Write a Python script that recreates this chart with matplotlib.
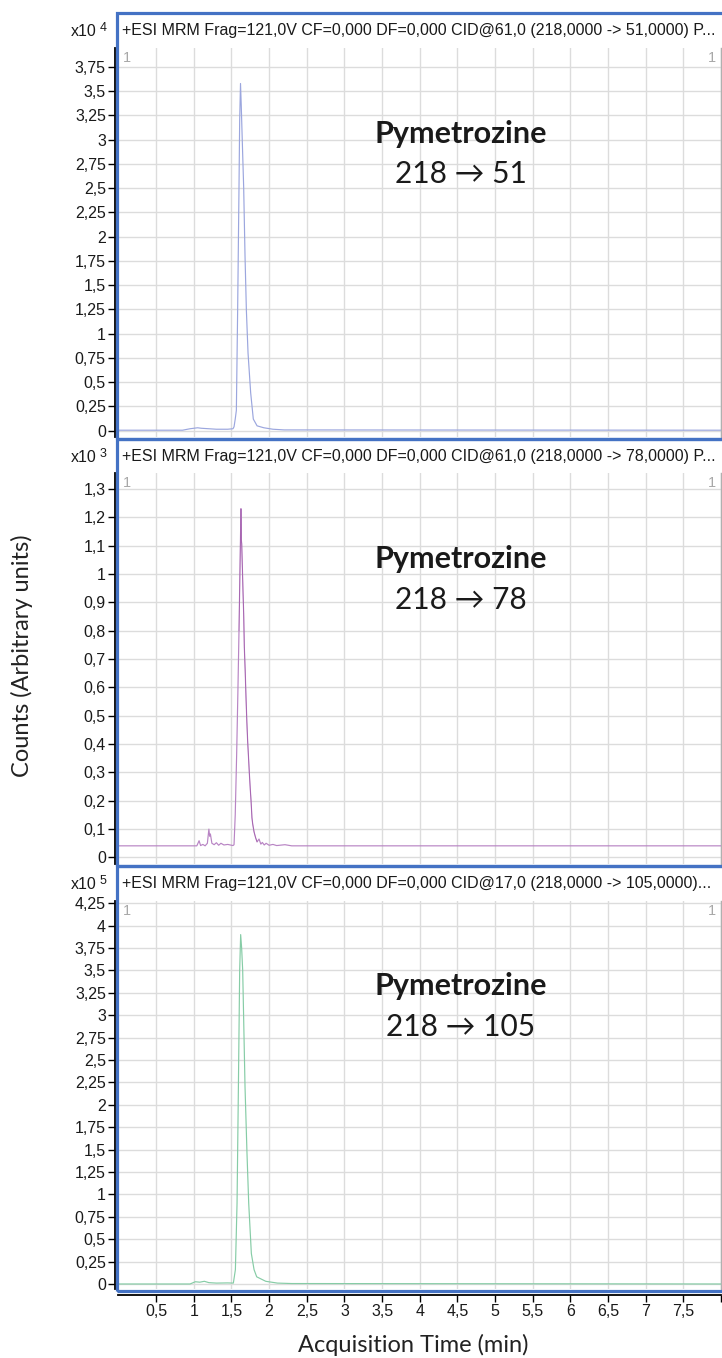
import matplotlib.pyplot as plt
from matplotlib.patches import Rectangle
from matplotlib.ticker import FixedLocator, FuncFormatter

# retention time (min) and counts for each MRM transition
time_51 = [0.0, 0.85, 0.95, 1.05, 1.1, 1.2, 1.3, 1.45, 1.52, 1.534, 1.55, 1.565,
           1.582, 1.60, 1.609, 1.62, 1.63, 1.645, 1.662, 1.68, 1.698, 1.72, 1.755,
           1.79, 1.84, 1.93, 2.05, 2.2, 8.0]
counts_51 = [0.005, 0.005, 0.02, 0.03, 0.025, 0.02, 0.015, 0.015, 0.02, 0.04, 0.12, 0.21,
             1.24, 2.51, 3.2, 3.58, 3.35, 2.95, 2.51, 1.8, 1.24, 0.8, 0.39,
             0.12, 0.05, 0.03, 0.015, 0.008, 0.005]

time_78 = [0.0, 1.04, 1.07, 1.09, 1.12, 1.15, 1.18, 1.20, 1.21, 1.22, 1.24, 1.27, 1.30,
           1.33, 1.36, 1.40, 1.45, 1.52, 1.534, 1.55, 1.569, 1.585, 1.60, 1.615, 1.626,
           1.631, 1.636, 1.645, 1.653, 1.662, 1.671, 1.682, 1.693, 1.704, 1.715, 1.727,
           1.738, 1.75, 1.76, 1.772, 1.782, 1.80, 1.82, 1.84, 1.866, 1.89, 1.91, 1.935,
           1.96, 2.0, 2.05, 2.1, 2.21, 2.3, 8.0]
counts_78 = [0.041, 0.041, 0.059, 0.042, 0.046, 0.041, 0.05, 0.10, 0.075, 0.083, 0.05, 0.045, 0.052,
             0.043, 0.05, 0.044, 0.046, 0.042, 0.045, 0.15, 0.365, 0.58, 0.80, 1.05, 1.23,
             1.12, 1.106, 1.02, 0.94, 0.86, 0.74, 0.66, 0.565, 0.48, 0.41, 0.35,
             0.294, 0.24, 0.20, 0.14, 0.118, 0.09, 0.07, 0.055, 0.065, 0.047, 0.053, 0.044,
             0.05, 0.043, 0.046, 0.042, 0.045, 0.041, 0.041]

time_105 = [0.0, 0.95, 1.02, 1.08, 1.14, 1.2, 1.3, 1.45, 1.525, 1.552, 1.574, 1.592,
            1.609, 1.622, 1.635, 1.649, 1.68, 1.706, 1.729, 1.764, 1.8, 1.835, 1.955,
            2.11, 2.3, 8.0]
counts_105 = [0.0, 0.0, 0.025, 0.02, 0.03, 0.015, 0.01, 0.012, 0.01, 0.16, 0.9, 2.2,
              3.5, 3.9, 3.75, 3.5, 2.2, 1.46, 0.9, 0.34, 0.16, 0.08, 0.03,
              0.01, 0.005, 0.0]

headers = ["+ESI MRM Frag=121,0V CF=0,000 DF=0,000 CID@61,0 (218,0000 -> 51,0000) P...",
           "+ESI MRM Frag=121,0V CF=0,000 DF=0,000 CID@61,0 (218,0000 -> 78,0000) P...",
           "+ESI MRM Frag=121,0V CF=0,000 DF=0,000 CID@17,0 (218,0000 -> 105,0000)..."]
transitions = ["218 \u2192 51", "218 \u2192 78", "218 \u2192 105"]
exponents = ["4", "3", "5"]
y_ticks = [[0, 0.25, 0.5, 0.75, 1, 1.25, 1.5, 1.75, 2, 2.25, 2.5, 2.75, 3, 3.25, 3.5, 3.75],
           [0, 0.1, 0.2, 0.3, 0.4, 0.5, 0.6, 0.7, 0.8, 0.9, 1, 1.1, 1.2, 1.3],
           [0, 0.25, 0.5, 0.75, 1, 1.25, 1.5, 1.75, 2, 2.25, 2.5, 2.75, 3, 3.25, 3.5, 3.75, 4, 4.25]]
y_limits = [(-0.062, 3.946), (-0.022, 1.356), (-0.056, 4.275)]
x_ticks = [0.5, 1, 1.5, 2, 2.5, 3, 3.5, 4, 4.5, 5, 5.5, 6, 6.5, 7, 7.5, 8]

traces = [(time_51, counts_51, '#9ba6de'),
          (time_78, counts_78, '#b884c4'),
          (time_105, counts_105, '#86cca6')]

W, H = 722, 1358
FRAME_BLUE = '#4472c4'
TICK_FONT = 'Liberation Sans'
LABEL_FONT = ['Lato', 'DejaVu Sans']


def px_rect(left, top, right, bottom):
    return [left / W, 1 - bottom / H, (right - left) / W, (bottom - top) / H]


def comma(v, pos):
    s = ('%g' % v).replace('.', ',')
    return s


fig = plt.figure(figsize=(W / 100, H / 100), dpi=100)
fig.patch.set_facecolor('white')

frames = [(12.8, 438.7), (438.7, 865.7), (865.7, 1291.0)]
plot_tops = [48, 473, 901]

for i, ((t, c, col), (f_top, f_bot)) in enumerate(zip(traces, frames)):
    ax = fig.add_axes(px_rect(118.5, plot_tops[i], 721, f_bot - 2))
    ax.plot(t, c, color=col, lw=0.85, zorder=3)
    if i == 1:
        # darker overlay for the noisy apex of the 78 trace
        ax.plot(t[22:44], c[22:44], color='#8a2f8f', lw=0.6, alpha=0.4, zorder=4)
    ax.set_xlim(0, 8)
    ax.set_ylim(*y_limits[i])
    ax.yaxis.set_major_locator(FixedLocator(y_ticks[i]))
    ax.yaxis.set_major_formatter(FuncFormatter(comma))
    ax.xaxis.set_major_locator(FixedLocator(x_ticks))
    ax.grid(True, color='#dcdcdc', lw=1.0, zorder=0)
    ax.set_axisbelow(True)
    ax.spines['top'].set_visible(False)
    ax.spines['right'].set_color('#b0b0b0')
    ax.spines['right'].set_linewidth(1.0)
    ax.spines['left'].set_position(('outward', 2.6))
    ax.spines['left'].set_linewidth(1.3)
    ax.tick_params(axis='y', direction='out', length=5, width=1.0, pad=1.5,
                   labelsize=11.5, labelcolor='#1a1a1a')
    for lab in ax.get_yticklabels():
        lab.set_fontfamily(TICK_FONT)

    if i < 2:
        ax.spines['bottom'].set_visible(False)
        ax.tick_params(axis='x', length=0, labelbottom=False)
    else:
        ax.spines['bottom'].set_position(('outward', 4))
        ax.spines['bottom'].set_linewidth(1.3)
        ax.tick_params(axis='x', direction='out', length=5, width=1.0, pad=1.5,
                       labelsize=11.5, labelcolor='#1a1a1a')
        ax.set_xticklabels([comma(v, None) if v < 8 else '' for v in x_ticks],
                           fontfamily=TICK_FONT)

    # small trace-number markers in the plot corners
    ax.text(0.008, 0.992, '1', transform=ax.transAxes, ha='left', va='top',
            color='#a8a8a8', fontsize=10.5, fontfamily=TICK_FONT)
    ax.text(0.992, 0.992, '1', transform=ax.transAxes, ha='right', va='top',
            color='#a8a8a8', fontsize=10.5, fontfamily=TICK_FONT)

    ax.text(0.568, 0.78, 'Pymetrozine', transform=ax.transAxes, ha='center',
            va='center', fontsize=22, fontweight='bold', color='#1a1a1a',
            fontfamily=LABEL_FONT)
    ax.text(0.568, 0.675, transitions[i], transform=ax.transAxes, ha='center',
            va='center', fontsize=21.5, color='#1a1a1a', fontfamily=LABEL_FONT)

    # header line and blue frame around each chromatogram
    fig.text(122 / W, 1 - (f_top + 18) / H, headers[i], ha='left', va='center',
             fontsize=11.5, fontfamily=TICK_FONT, color='#1a1a1a')
    fig.text(97 / W, 1 - (f_top + 19) / H, 'x10', ha='right', va='center',
             fontsize=11.5, fontfamily=TICK_FONT, color='#1a1a1a')
    fig.text(100 / W, 1 - (f_top + 15) / H, exponents[i], ha='left', va='center',
             fontsize=9, fontfamily=TICK_FONT, color='#1a1a1a')
    fig.patches.append(Rectangle((117.3 / W, 1 - f_bot / H), (730 - 117.3) / W,
                                 (f_bot - f_top) / H, transform=fig.transFigure,
                                 fill=False, edgecolor=FRAME_BLUE, lw=2.3, zorder=10))

fig.text(22 / W, 1 - 656 / H, 'Counts (Arbitrary units)', rotation=90, ha='center',
         va='center', fontsize=17, color='#222222', fontfamily=LABEL_FONT)
fig.text(413 / W, 1 - 1345 / H, 'Acquisition Time (min)', ha='center', va='center',
         fontsize=17, color='#222222', fontfamily=LABEL_FONT)

fig.savefig('out.png', dpi=100)
